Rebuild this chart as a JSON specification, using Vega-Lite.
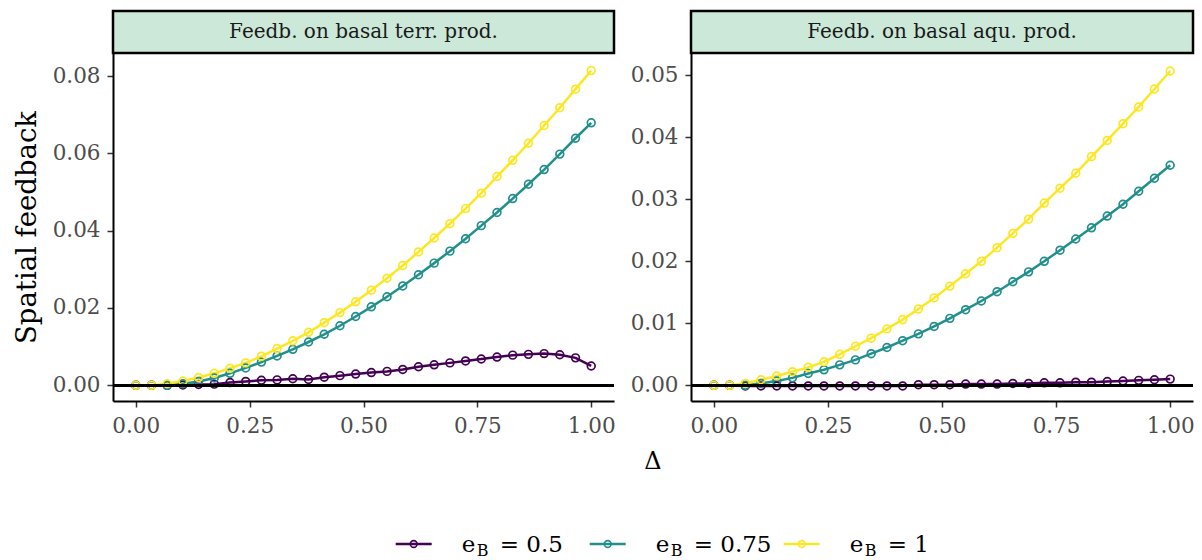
{
  "$schema": "https://vega.github.io/schema/vega-lite/v6.json",
  "background": "white",
  "padding": {"left": 13, "top": 9, "right": 2, "bottom": 0},
  "config": {
    "view": {"stroke": null},
    "axis": {
      "grid": false,
      "domainColor": "black",
      "domainWidth": 2,
      "tickColor": "#333333",
      "tickWidth": 1.5,
      "tickSize": 6,
      "labelColor": "#4d4d4d",
      "labelFont": "DejaVu Serif",
      "labelFontSize": 21.5,
      "titleFont": "DejaVu Serif",
      "titleFontWeight": "normal",
      "titleColor": "black",
      "titleFontSize": 27.5
    }
  },
  "datasets": {
    "feedback": [
      {"p": "terr", "e": "0.5", "d": 0, "v": 0},
      {"p": "terr", "e": "0.5", "d": 0.0345, "v": 0},
      {"p": "terr", "e": "0.5", "d": 0.069, "v": 0},
      {"p": "terr", "e": "0.5", "d": 0.1034, "v": 0.0001},
      {"p": "terr", "e": "0.5", "d": 0.1379, "v": 0.0002},
      {"p": "terr", "e": "0.5", "d": 0.1724, "v": 0.0003},
      {"p": "terr", "e": "0.5", "d": 0.2069, "v": 0.0007},
      {"p": "terr", "e": "0.5", "d": 0.2414, "v": 0.001},
      {"p": "terr", "e": "0.5", "d": 0.2759, "v": 0.0013},
      {"p": "terr", "e": "0.5", "d": 0.3103, "v": 0.0014},
      {"p": "terr", "e": "0.5", "d": 0.3448, "v": 0.0017},
      {"p": "terr", "e": "0.5", "d": 0.3793, "v": 0.0015},
      {"p": "terr", "e": "0.5", "d": 0.4138, "v": 0.0021},
      {"p": "terr", "e": "0.5", "d": 0.4483, "v": 0.0025},
      {"p": "terr", "e": "0.5", "d": 0.4828, "v": 0.0029},
      {"p": "terr", "e": "0.5", "d": 0.5172, "v": 0.0033},
      {"p": "terr", "e": "0.5", "d": 0.5517, "v": 0.0036},
      {"p": "terr", "e": "0.5", "d": 0.5862, "v": 0.0041},
      {"p": "terr", "e": "0.5", "d": 0.6207, "v": 0.0048},
      {"p": "terr", "e": "0.5", "d": 0.6552, "v": 0.0053},
      {"p": "terr", "e": "0.5", "d": 0.6897, "v": 0.0058},
      {"p": "terr", "e": "0.5", "d": 0.7241, "v": 0.0063},
      {"p": "terr", "e": "0.5", "d": 0.7586, "v": 0.0068},
      {"p": "terr", "e": "0.5", "d": 0.7931, "v": 0.0073},
      {"p": "terr", "e": "0.5", "d": 0.8276, "v": 0.0078},
      {"p": "terr", "e": "0.5", "d": 0.8621, "v": 0.008},
      {"p": "terr", "e": "0.5", "d": 0.8966, "v": 0.0082},
      {"p": "terr", "e": "0.5", "d": 0.931, "v": 0.0079},
      {"p": "terr", "e": "0.5", "d": 0.9655, "v": 0.0071},
      {"p": "terr", "e": "0.5", "d": 1, "v": 0.005},
      {"p": "terr", "e": "0.75", "d": 0, "v": 0},
      {"p": "terr", "e": "0.75", "d": 0.0345, "v": 0},
      {"p": "terr", "e": "0.75", "d": 0.069, "v": 0},
      {"p": "terr", "e": "0.75", "d": 0.1034, "v": 0.0004},
      {"p": "terr", "e": "0.75", "d": 0.1379, "v": 0.001},
      {"p": "terr", "e": "0.75", "d": 0.1724, "v": 0.0019},
      {"p": "terr", "e": "0.75", "d": 0.2069, "v": 0.0031},
      {"p": "terr", "e": "0.75", "d": 0.2414, "v": 0.0045},
      {"p": "terr", "e": "0.75", "d": 0.2759, "v": 0.006},
      {"p": "terr", "e": "0.75", "d": 0.3103, "v": 0.0076},
      {"p": "terr", "e": "0.75", "d": 0.3448, "v": 0.0093},
      {"p": "terr", "e": "0.75", "d": 0.3793, "v": 0.0112},
      {"p": "terr", "e": "0.75", "d": 0.4138, "v": 0.0132},
      {"p": "terr", "e": "0.75", "d": 0.4483, "v": 0.0154},
      {"p": "terr", "e": "0.75", "d": 0.4828, "v": 0.0178},
      {"p": "terr", "e": "0.75", "d": 0.5172, "v": 0.0203},
      {"p": "terr", "e": "0.75", "d": 0.5517, "v": 0.0229},
      {"p": "terr", "e": "0.75", "d": 0.5862, "v": 0.0257},
      {"p": "terr", "e": "0.75", "d": 0.6207, "v": 0.0286},
      {"p": "terr", "e": "0.75", "d": 0.6552, "v": 0.0316},
      {"p": "terr", "e": "0.75", "d": 0.6897, "v": 0.0347},
      {"p": "terr", "e": "0.75", "d": 0.7241, "v": 0.0379},
      {"p": "terr", "e": "0.75", "d": 0.7586, "v": 0.0413},
      {"p": "terr", "e": "0.75", "d": 0.7931, "v": 0.0447},
      {"p": "terr", "e": "0.75", "d": 0.8276, "v": 0.0483},
      {"p": "terr", "e": "0.75", "d": 0.8621, "v": 0.052},
      {"p": "terr", "e": "0.75", "d": 0.8966, "v": 0.0558},
      {"p": "terr", "e": "0.75", "d": 0.931, "v": 0.0598},
      {"p": "terr", "e": "0.75", "d": 0.9655, "v": 0.0639},
      {"p": "terr", "e": "0.75", "d": 1, "v": 0.0679},
      {"p": "terr", "e": "1", "d": 0, "v": 0},
      {"p": "terr", "e": "1", "d": 0.0345, "v": 0},
      {"p": "terr", "e": "1", "d": 0.069, "v": 0.0004},
      {"p": "terr", "e": "1", "d": 0.1034, "v": 0.0011},
      {"p": "terr", "e": "1", "d": 0.1379, "v": 0.002},
      {"p": "terr", "e": "1", "d": 0.1724, "v": 0.0031},
      {"p": "terr", "e": "1", "d": 0.2069, "v": 0.0044},
      {"p": "terr", "e": "1", "d": 0.2414, "v": 0.0058},
      {"p": "terr", "e": "1", "d": 0.2759, "v": 0.0075},
      {"p": "terr", "e": "1", "d": 0.3103, "v": 0.0095},
      {"p": "terr", "e": "1", "d": 0.3448, "v": 0.0115},
      {"p": "terr", "e": "1", "d": 0.3793, "v": 0.0137},
      {"p": "terr", "e": "1", "d": 0.4138, "v": 0.0162},
      {"p": "terr", "e": "1", "d": 0.4483, "v": 0.0188},
      {"p": "terr", "e": "1", "d": 0.4828, "v": 0.0216},
      {"p": "terr", "e": "1", "d": 0.5172, "v": 0.0246},
      {"p": "terr", "e": "1", "d": 0.5517, "v": 0.0277},
      {"p": "terr", "e": "1", "d": 0.5862, "v": 0.031},
      {"p": "terr", "e": "1", "d": 0.6207, "v": 0.0345},
      {"p": "terr", "e": "1", "d": 0.6552, "v": 0.0381},
      {"p": "terr", "e": "1", "d": 0.6897, "v": 0.0418},
      {"p": "terr", "e": "1", "d": 0.7241, "v": 0.0457},
      {"p": "terr", "e": "1", "d": 0.7586, "v": 0.0497},
      {"p": "terr", "e": "1", "d": 0.7931, "v": 0.054},
      {"p": "terr", "e": "1", "d": 0.8276, "v": 0.0582},
      {"p": "terr", "e": "1", "d": 0.8621, "v": 0.0626},
      {"p": "terr", "e": "1", "d": 0.8966, "v": 0.0672},
      {"p": "terr", "e": "1", "d": 0.931, "v": 0.0718},
      {"p": "terr", "e": "1", "d": 0.9655, "v": 0.0766},
      {"p": "terr", "e": "1", "d": 1, "v": 0.0814},
      {"p": "aqu", "e": "0.5", "d": 0, "v": 0},
      {"p": "aqu", "e": "0.5", "d": 0.0345, "v": 0},
      {"p": "aqu", "e": "0.5", "d": 0.069, "v": -0.0001},
      {"p": "aqu", "e": "0.5", "d": 0.1034, "v": -0.0001},
      {"p": "aqu", "e": "0.5", "d": 0.1379, "v": -0.0001},
      {"p": "aqu", "e": "0.5", "d": 0.1724, "v": -0.0001},
      {"p": "aqu", "e": "0.5", "d": 0.2069, "v": -0.0001},
      {"p": "aqu", "e": "0.5", "d": 0.2414, "v": -0.0001},
      {"p": "aqu", "e": "0.5", "d": 0.2759, "v": -0.0001},
      {"p": "aqu", "e": "0.5", "d": 0.3103, "v": -0.0001},
      {"p": "aqu", "e": "0.5", "d": 0.3448, "v": -0.0001},
      {"p": "aqu", "e": "0.5", "d": 0.3793, "v": -0.0001},
      {"p": "aqu", "e": "0.5", "d": 0.4138, "v": -0.0001},
      {"p": "aqu", "e": "0.5", "d": 0.4483, "v": 0.0001},
      {"p": "aqu", "e": "0.5", "d": 0.4828, "v": 0.0001},
      {"p": "aqu", "e": "0.5", "d": 0.5172, "v": 0.0001},
      {"p": "aqu", "e": "0.5", "d": 0.5517, "v": 0.0002},
      {"p": "aqu", "e": "0.5", "d": 0.5862, "v": 0.0002},
      {"p": "aqu", "e": "0.5", "d": 0.6207, "v": 0.0002},
      {"p": "aqu", "e": "0.5", "d": 0.6552, "v": 0.0003},
      {"p": "aqu", "e": "0.5", "d": 0.6897, "v": 0.0003},
      {"p": "aqu", "e": "0.5", "d": 0.7241, "v": 0.0004},
      {"p": "aqu", "e": "0.5", "d": 0.7586, "v": 0.0004},
      {"p": "aqu", "e": "0.5", "d": 0.7931, "v": 0.0005},
      {"p": "aqu", "e": "0.5", "d": 0.8276, "v": 0.0005},
      {"p": "aqu", "e": "0.5", "d": 0.8621, "v": 0.0006},
      {"p": "aqu", "e": "0.5", "d": 0.8966, "v": 0.0007},
      {"p": "aqu", "e": "0.5", "d": 0.931, "v": 0.0008},
      {"p": "aqu", "e": "0.5", "d": 0.9655, "v": 0.0009},
      {"p": "aqu", "e": "0.5", "d": 1, "v": 0.001},
      {"p": "aqu", "e": "0.75", "d": 0, "v": 0},
      {"p": "aqu", "e": "0.75", "d": 0.0345, "v": 0},
      {"p": "aqu", "e": "0.75", "d": 0.069, "v": 0},
      {"p": "aqu", "e": "0.75", "d": 0.1034, "v": 0.0003},
      {"p": "aqu", "e": "0.75", "d": 0.1379, "v": 0.0007},
      {"p": "aqu", "e": "0.75", "d": 0.1724, "v": 0.0012},
      {"p": "aqu", "e": "0.75", "d": 0.2069, "v": 0.0019},
      {"p": "aqu", "e": "0.75", "d": 0.2414, "v": 0.0025},
      {"p": "aqu", "e": "0.75", "d": 0.2759, "v": 0.0033},
      {"p": "aqu", "e": "0.75", "d": 0.3103, "v": 0.0041},
      {"p": "aqu", "e": "0.75", "d": 0.3448, "v": 0.0051},
      {"p": "aqu", "e": "0.75", "d": 0.3793, "v": 0.0061},
      {"p": "aqu", "e": "0.75", "d": 0.4138, "v": 0.0072},
      {"p": "aqu", "e": "0.75", "d": 0.4483, "v": 0.0083},
      {"p": "aqu", "e": "0.75", "d": 0.4828, "v": 0.0095},
      {"p": "aqu", "e": "0.75", "d": 0.5172, "v": 0.0108},
      {"p": "aqu", "e": "0.75", "d": 0.5517, "v": 0.0122},
      {"p": "aqu", "e": "0.75", "d": 0.5862, "v": 0.0136},
      {"p": "aqu", "e": "0.75", "d": 0.6207, "v": 0.0151},
      {"p": "aqu", "e": "0.75", "d": 0.6552, "v": 0.0167},
      {"p": "aqu", "e": "0.75", "d": 0.6897, "v": 0.0183},
      {"p": "aqu", "e": "0.75", "d": 0.7241, "v": 0.02},
      {"p": "aqu", "e": "0.75", "d": 0.7586, "v": 0.0218},
      {"p": "aqu", "e": "0.75", "d": 0.7931, "v": 0.0236},
      {"p": "aqu", "e": "0.75", "d": 0.8276, "v": 0.0254},
      {"p": "aqu", "e": "0.75", "d": 0.8621, "v": 0.0273},
      {"p": "aqu", "e": "0.75", "d": 0.8966, "v": 0.0292},
      {"p": "aqu", "e": "0.75", "d": 0.931, "v": 0.0313},
      {"p": "aqu", "e": "0.75", "d": 0.9655, "v": 0.0334},
      {"p": "aqu", "e": "0.75", "d": 1, "v": 0.0355},
      {"p": "aqu", "e": "1", "d": 0, "v": 0},
      {"p": "aqu", "e": "1", "d": 0.0345, "v": 0},
      {"p": "aqu", "e": "1", "d": 0.069, "v": 0.0003},
      {"p": "aqu", "e": "1", "d": 0.1034, "v": 0.0009},
      {"p": "aqu", "e": "1", "d": 0.1379, "v": 0.0015},
      {"p": "aqu", "e": "1", "d": 0.1724, "v": 0.0022},
      {"p": "aqu", "e": "1", "d": 0.2069, "v": 0.0029},
      {"p": "aqu", "e": "1", "d": 0.2414, "v": 0.0038},
      {"p": "aqu", "e": "1", "d": 0.2759, "v": 0.005},
      {"p": "aqu", "e": "1", "d": 0.3103, "v": 0.0063},
      {"p": "aqu", "e": "1", "d": 0.3448, "v": 0.0076},
      {"p": "aqu", "e": "1", "d": 0.3793, "v": 0.0091},
      {"p": "aqu", "e": "1", "d": 0.4138, "v": 0.0106},
      {"p": "aqu", "e": "1", "d": 0.4483, "v": 0.0123},
      {"p": "aqu", "e": "1", "d": 0.4828, "v": 0.0141},
      {"p": "aqu", "e": "1", "d": 0.5172, "v": 0.016},
      {"p": "aqu", "e": "1", "d": 0.5517, "v": 0.018},
      {"p": "aqu", "e": "1", "d": 0.5862, "v": 0.02},
      {"p": "aqu", "e": "1", "d": 0.6207, "v": 0.0222},
      {"p": "aqu", "e": "1", "d": 0.6552, "v": 0.0245},
      {"p": "aqu", "e": "1", "d": 0.6897, "v": 0.0268},
      {"p": "aqu", "e": "1", "d": 0.7241, "v": 0.0294},
      {"p": "aqu", "e": "1", "d": 0.7586, "v": 0.0318},
      {"p": "aqu", "e": "1", "d": 0.7931, "v": 0.0342},
      {"p": "aqu", "e": "1", "d": 0.8276, "v": 0.0369},
      {"p": "aqu", "e": "1", "d": 0.8621, "v": 0.0395},
      {"p": "aqu", "e": "1", "d": 0.8966, "v": 0.0422},
      {"p": "aqu", "e": "1", "d": 0.931, "v": 0.0449},
      {"p": "aqu", "e": "1", "d": 0.9655, "v": 0.0478},
      {"p": "aqu", "e": "1", "d": 1, "v": 0.0507}
    ]
  },
  "spacing": 13,
  "vconcat": [
    {
      "columns": 2,
      "bounds": "flush",
      "spacing": {"row": 0, "column": 77},
      "concat": [
        {
          "width": 501,
          "height": 42,
          "view": {"fill": "#cce8d8", "stroke": "black", "strokeWidth": 2.5},
          "data": {"values": [{"strip": "Feedb. on basal terr. prod."}]},
          "mark": {"type": "text", "font": "DejaVu Serif", "fontSize": 20, "color": "#1a1a1a", "baseline": "middle"},
          "encoding": {"text": {"field": "strip"}}
        },
        {
          "width": 502,
          "height": 42,
          "view": {"fill": "#cce8d8", "stroke": "black", "strokeWidth": 2.5},
          "data": {"values": [{"strip": "Feedb. on basal aqu. prod."}]},
          "mark": {"type": "text", "font": "DejaVu Serif", "fontSize": 20, "color": "#1a1a1a", "baseline": "middle"},
          "encoding": {"text": {"field": "strip"}}
        },
        {
          "width": 501,
          "height": 348,
          "data": {"name": "feedback"},
          "transform": [{"filter": "datum.p === 'terr'"}],
          "encoding": {
            "x": {
              "field": "d", "type": "quantitative",
              "scale": {"domain": [-0.05, 1.05], "nice": false, "zero": false},
              "axis": {"values": [0, 0.25, 0.5, 0.75, 1], "format": ".2f", "title": null, "labelPadding": 8}
            },
            "y": {
              "field": "v", "type": "quantitative",
              "scale": {"domain": [-0.00406, 0.08595], "nice": false, "zero": false},
              "axis": {"values": [0, 0.02, 0.04, 0.06, 0.08], "format": ".2f", "title": "Spatial feedback", "labelPadding": 7, "titlePadding": 11}
            },
            "color": {
              "field": "e", "type": "nominal",
              "scale": {"domain": ["0.5", "0.75", "1"], "range": ["#440154", "#21908c", "#fde725"]},
              "legend": null
            }
          },
          "layer": [
            {"mark": {"type": "line", "strokeWidth": 2.5}},
            {"mark": {"type": "point", "filled": false, "size": 60, "strokeWidth": 1.7, "opacity": 1}},
            {"mark": {"type": "rule", "color": "black", "strokeWidth": 2}, "encoding": {"y": {"datum": 0}, "x": null, "color": null}}
          ]
        },
        {
          "width": 502,
          "height": 348,
          "data": {"name": "feedback"},
          "transform": [{"filter": "datum.p === 'aqu'"}],
          "encoding": {
            "x": {
              "field": "d", "type": "quantitative",
              "scale": {"domain": [-0.05, 1.05], "nice": false, "zero": false},
              "axis": {"values": [0, 0.25, 0.5, 0.75, 1], "format": ".2f", "title": null, "labelPadding": 8}
            },
            "y": {
              "field": "v", "type": "quantitative",
              "scale": {"domain": [-0.00253, 0.0536], "nice": false, "zero": false},
              "axis": {"values": [0, 0.01, 0.02, 0.03, 0.04, 0.05], "format": ".2f", "title": null, "labelPadding": 7}
            },
            "color": {
              "field": "e", "type": "nominal",
              "scale": {"domain": ["0.5", "0.75", "1"], "range": ["#440154", "#21908c", "#fde725"]},
              "legend": null
            }
          },
          "layer": [
            {"mark": {"type": "line", "strokeWidth": 2.5}},
            {"mark": {"type": "point", "filled": false, "size": 60, "strokeWidth": 1.7, "opacity": 1}},
            {"mark": {"type": "rule", "color": "black", "strokeWidth": 2}, "encoding": {"y": {"datum": 0}, "x": null, "color": null}}
          ]
        }
      ]
    },
    {
      "width": 776,
      "height": 110,
      "layer": [
        {
          "data": {"values": [{"axis": "Δ"}]},
          "mark": {"type": "text", "font": "DejaVu Serif", "fontSize": 24, "color": "black", "baseline": "middle", "dx": 152, "dy": -44},
          "encoding": {"text": {"field": "axis"}}
        },
        {
          "data": {"values": [{"e": "0.5", "lab": "= 0.5"}, {"e": "0.75", "lab": "= 0.75"}, {"e": "1", "lab": "= 1"}]},
          "encoding": {
            "x": {
              "field": "e", "type": "ordinal",
              "scale": {"type": "point", "domain": ["0.5", "0.75", "1"], "padding": 1, "align": 0.775},
              "axis": null
            },
            "color": {
              "field": "e", "type": "nominal",
              "scale": {"domain": ["0.5", "0.75", "1"], "range": ["#440154", "#21908c", "#fde725"]},
              "legend": null
            }
          },
          "layer": [
            {"mark": {"type": "point", "shape": "stroke", "size": 1296, "strokeWidth": 2.5, "filled": false, "opacity": 1, "yOffset": 38}},
            {"mark": {"type": "point", "shape": "circle", "size": 45, "strokeWidth": 1.6, "filled": false, "opacity": 1, "yOffset": 38}},
            {"mark": {"type": "text", "text": "e", "font": "DejaVu Serif", "fontSize": 23, "align": "left", "baseline": "alphabetic", "dx": 48, "dy": 46}, "encoding": {"color": {"value": "black"}}},
            {"mark": {"type": "text", "text": "B", "font": "DejaVu Serif", "fontSize": 16, "align": "left", "baseline": "alphabetic", "dx": 63, "dy": 50}, "encoding": {"color": {"value": "black"}}},
            {"mark": {"type": "text", "font": "DejaVu Serif", "fontSize": 23, "align": "left", "baseline": "alphabetic", "dx": 86, "dy": 46}, "encoding": {"text": {"field": "lab"}, "color": {"value": "black"}}}
          ]
        }
      ]
    }
  ]
}
